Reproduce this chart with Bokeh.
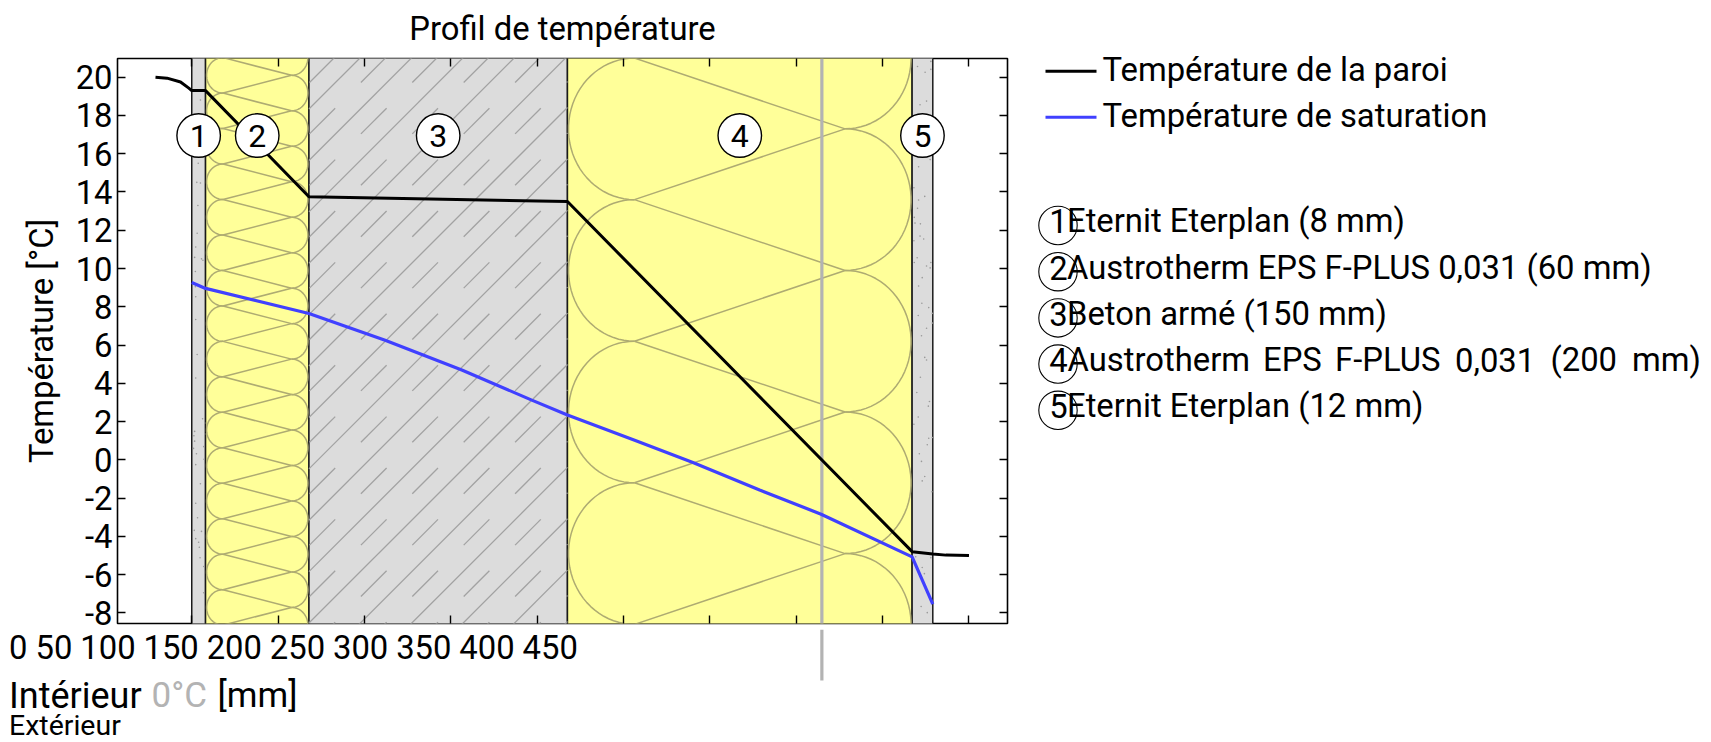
from bokeh.plotting import figure
from bokeh.embed import file_html
from bokeh.resources import INLINE
from bokeh.layouts import column, row
from bokeh.core.properties import value
from bokeh.models import (LinearAxis, FixedTicker, Range1d, Arrow, Title)
import numpy as np

# ---------- data ----------
layer_names = ["Eternit Eterplan (8 mm)", "Austrotherm EPS F-PLUS 0,031 (60 mm)", "Beton armé (150 mm)",
               "Austrotherm EPS F-PLUS 0,031 (200 mm)", "Eternit Eterplan (12 mm)"]
layer_thickness = [8, 60, 150, 200, 12]
layer_numbers = ["1", "2", "3", "4", "5"]
layer_colors = ["#dcdcdc", "#ffff99", "#dcdcdc", "#ffff99", "#dcdcdc"]

wall_x = [-21, -14.3, -6.5, -1.7, 0, 8, 68, 218, 418, 430, 437.6, 451]
wall_t = [20.0, 19.95, 19.75, 19.43, 19.3, 19.3, 13.75, 13.5, -4.8, -4.92, -4.98, -5.0]
sat_x = [0, 8, 68, 112.2, 156.7, 197.3, 218, 257, 290.8, 329.5, 365.2, 418, 430]
sat_t = [9.27, 8.96, 7.65, 6.25, 4.70, 3.12, 2.34, 1.03, -0.14, -1.58, -2.84, -5.07, -7.54]
zero_degree_x = 364.9
legend_labels = ["Température de la paroi", "Température de saturation"]

x_ticks = [0, 50, 100, 150, 200, 250, 300, 350, 400, 450]
x_tick_labels = ["0", "50", "100", "150", "200", "250", "300", "350", "400", "450"]
y_ticks = [20, 18, 16, 14, 12, 10, 8, 6, 4, 2, 0, -2, -4, -6, -8]
y_tick_labels = ["20", "18", "16", "14", "12", "10", "8", "6", "4", "2", "0", "-2", "-4", "-6", "-8"]

# speckles of the fibre-cement layers (offsets in the crop, decorative)
speck5 = [(25,22),(62,8),(46,38),(62,30),(32,128),(50,118),(60,280),(28,300),(15,358),(28,392),(45,382),(25,415),
          (16,440),(18,456),(33,458),(32,492),(42,500),(15,505),(24,552),(16,565),(62,565),(50,575),(60,580),(38,607),
          (28,630),(37,678),(56,690),(66,706),(27,712),(66,733),(50,747),(36,768),(45,828),(50,835),(33,883),(23,925),
          (58,950),(55,963),(27,993),(15,1013),(66,1050),(56,1052),(52,1070),(30,1095),(36,1116),(45,1158),(38,1170),
          (65,1200),(20,1380),(62,1383),(38,1410),(44,1427),(35,1518),(52,1535)]
speck1 = [(33,115),(27,290),(23,343),(33,345),(26,407),(24,484),(20,522),(40,559),(17,551),(36,555),(19,590),(19,632),
          (20,660),(20,723),(24,820),(20,885),(39,998),(17,1033),(45,1010),(15,1045),(45,1040),(17,1060),(42,1075),
          (14,1080),(22,1095),(43,1110),(20,1125),(33,1178),(20,1232),(25,1272),(16,1307),(36,1310),(20,1330),(28,1340),
          (30,1354),(32,1383),(42,1407),(42,1480)]

# ---------- geometry ----------
FONT = "Roboto"
FS = 32.8
F_L, F_T, F_W, F_H = 117, 58, 890, 565
B_H = 6            # below the frame of the main figure
R0 = 1020          # left of the right panel
TOTAL_W = 1705
TOP_H = F_T + F_H + B_H
TOTAL_H = 742
LAYER_K = 0.998    # the layers are drawn very slightly narrower than the tick scale
x_min, x_max = -43.0, 472.4
y_min, y_max = -8.554, 20.977
sx = F_W / (x_max - x_min)
sy = F_H / (y_max - y_min)
def dx(X): return x_min + (np.asarray(X, float) - F_L) / sx
def dy(Y): return y_max - (np.asarray(Y, float) - F_T) / sy
def px(x): return F_L + (np.asarray(x, float) - x_min) * sx

p = figure(frame_width=F_W, frame_height=F_H, min_border_left=F_L, min_border_right=R0 - F_L - F_W,
           min_border_top=F_T, min_border_bottom=B_H,
           x_range=Range1d(x_min, x_max), y_range=Range1d(y_min, y_max),
           output_backend="svg", toolbar_location=None, tools="",
           background_fill_color="white", border_fill_color="white")
p.grid.visible = False
p.outline_line_color = "black"
p.outline_line_width = 1.6

edges = np.concatenate([[0], np.cumsum(layer_thickness)]) * LAYER_K
centers = (edges[:-1] + edges[1:]) / 2

# layers
p.quad(left=edges[:-1], right=edges[1:], bottom=y_min - 1, top=y_max + 1, fill_color=layer_colors,
       line_color="#1a1a1a", line_width=1.5)

# speckles
sp_x = [dx(908 + a / 2.77) for a, b in speck5] + [dx(188 + a / 2.77) for a, b in speck1]
sp_y = [dy(58 + b / 2.77) for a, b in speck5] + [dy(58 + b / 2.77) for a, b in speck1]
p.scatter(sp_x, sp_y, size=1.6, color="#9a9a9a", line_width=0)

# concrete hatching (continuous diagonals, alternated with dashes)
c_l, c_r = px(edges[2]), px(edges[3])
T = 51.4
xs, ys = [], []
for k in range(-8, 13):
    S = 674 + T * k
    xs.append(dx(np.array([c_l, c_r])))
    ys.append(dy(S - np.array([c_l, c_r])))
    S2 = 648 + T * k
    for m in range(0, 6):
        a = 309 + T * m
        b = min(a + 25.7, c_r)
        if a < c_r:
            xs.append(dx(np.array([a, b])))
            ys.append(dy(S2 - np.array([a, b])))
p.multi_line(xs, ys, line_color="#a2a2a2", line_width=1.3)

# insulation pattern
def insulation(x_l, x_r, rx, ry, t0):
    inset = 0.6
    out_x, out_y = [], []
    th = np.linspace(-np.pi / 2, np.pi / 2, 40)
    for k in range(-8, 20):
        tl = t0 - 2 * ry * k              # tangent height on the left
        tr = tl + ry                      # tangent height on the right
        cl, cr = x_l + inset + rx, x_r - inset - rx
        out_x.append(cl - rx * np.cos(th)); out_y.append(tl + ry + ry * np.sin(th))
        out_x.append(cr + rx * np.cos(th)); out_y.append(tr + ry * np.sin(th) - ry)
        out_x.append(np.array([cl, cr])); out_y.append(np.array([tl, tl + ry]))
        out_x.append(np.array([cl, cr])); out_y.append(np.array([tl, tl - ry]))
    return out_x, out_y
for (i, rx, ry, t0) in [(1, 9.5, 0.927, 19.17), (3, 38.2, 3.70, 13.6)]:
    ix, iy = insulation(edges[i], edges[i + 1], rx, ry, t0)
    p.multi_line(ix, iy, line_color="#aeab72", line_width=1.5)

# 0 °C line
GREY_W = 3.2
p.segment(zero_degree_x, y_min, zero_degree_x, y_max, line_color="#b3b3b3", line_width=GREY_W)
p.add_layout(Arrow(end=None, x_start=zero_degree_x, x_end=zero_degree_x, y_start=y_min, y_end=float(dy(TOP_H + 1)),
                   line_color="#b3b3b3", line_width=GREY_W), "below")

p.line(np.array(sat_x) * LAYER_K, sat_t, line_color="#4040ff", line_width=3.2)
p.line([x * LAYER_K if x > 0 else x for x in wall_x], wall_t, line_color="black", line_width=3)

# numbered circles in the plot
num_y = [16.95] * 5
p.scatter(centers, num_y, size=43.5, fill_color="white", line_color="black", line_width=1.4)
p.text(centers, num_y, text=layer_numbers, text_font=value(FONT), text_font_size="32px", text_align="center",
       text_baseline="middle", text_color="black")

# axes
EMPTY_X = {t: "" for t in x_ticks}
EMPTY_Y = {t: "" for t in y_ticks}
bottom = p.xaxis[0]
bottom.ticker = FixedTicker(ticks=x_ticks)
bottom.major_label_overrides = EMPTY_X
bottom.major_label_text_font_size = "1px"
bottom.major_label_standoff = 0
left = p.yaxis[0]
left.ticker = FixedTicker(ticks=y_ticks)
left.major_label_overrides = {t: l for t, l in zip(y_ticks, y_tick_labels)}
left.major_label_text_font = FONT
left.major_label_text_font_size = f"{FS}px"
left.major_label_text_color = "black"
left.major_label_standoff = 5
left.axis_label = "Température [°C]"
left.axis_label_text_font = FONT
left.axis_label_text_font_size = f"{FS}px"
left.axis_label_text_font_style = "normal"
left.axis_label_text_color = "black"
left.axis_label_standoff = 12
top = LinearAxis(ticker=FixedTicker(ticks=x_ticks), major_label_overrides=EMPTY_X,
                 major_label_text_font_size="1px", major_label_standoff=0)
right = LinearAxis(ticker=FixedTicker(ticks=y_ticks), major_label_overrides=EMPTY_Y,
                   major_label_text_font_size="1px", major_label_standoff=0)
p.add_layout(top, "above")
p.add_layout(right, "right")
for ax in [bottom, top, right, left]:
    ax.axis_line_color = None
    ax.major_tick_in = 8
    ax.major_tick_out = 0
    ax.major_tick_line_color = "black"
    ax.major_tick_line_width = 1.4
    ax.minor_tick_line_color = None

p.title = Title(text="Profil de température", align="center", vertical_align="top", text_font=FONT,
                text_font_size=f"{FS}px", text_font_style="normal", text_color="black", standoff=18, offset=-3)

def panel(x0, x1, y0, y1):
    f = figure(title=None, frame_width=x1 - x0, frame_height=y1 - y0, x_range=Range1d(x0, x1), y_range=Range1d(y1, y0),
               x_axis_type=None, y_axis_type=None, min_border=0, output_backend="svg", toolbar_location=None,
               tools="", outline_line_color=None, background_fill_color="white", border_fill_color="white")
    f.grid.visible = False
    return f

def write(f, X, Y, text, size=FS, color="black", align="left"):
    """Y is the baseline wanted on the page."""
    f.text([X], [Y - 0.36 * size], text=[text], text_font=value(FONT), text_font_size=value(f"{size}px"),
           text_color=color, text_align=align, text_baseline="alphabetic")

# ---------- right panel ----------
side = panel(R0, TOTAL_W, 0, TOP_H)
side.segment([1045, 1045], [70.7, 116.7], [1096, 1096], [70.7, 116.7], line_color=["black", "#4040ff"], line_width=3)
write(side, 1102, 81, legend_labels[0])
write(side, 1102, 127, legend_labels[1])

row_y = [232.7 + 46.2 * i for i in range(5)]
side.scatter([1057.5] * 5, [y - 7.7 for y in row_y], size=38.4, fill_alpha=0, line_color="black", line_width=1.1)
for i, (num, name) in enumerate(zip(layer_numbers, layer_names)):
    write(side, 1058, row_y[i], num, align="center")
    if i == 3:
        for word, X in zip(name.split(" "), [1067, 1262.5, 1334.5, 1454.5, 1550, 1631.5]):
            write(side, X, row_y[i], word)
    else:
        write(side, 1066.5, row_y[i], name)

# ---------- bottom panel ----------
under = panel(0, TOTAL_W, TOP_H, TOTAL_H)
under.segment([px(zero_degree_x)], [TOP_H], [px(zero_degree_x)], [680], line_color="#b3b3b3", line_width=GREY_W)
cur = 8.5
for t in x_tick_labels:
    write(under, cur, 658, t)
    cur += len(t) * 18.36 + 8.1
write(under, 8.5, 708, "Intérieur", 36)
write(under, 151, 708, "0°C", 35, "#b3b3b3")
write(under, 217, 708, "[mm]", 35)
write(under, 8.5, 735, "Extérieur", 28.5)

page = column(row(p, column(side)), under)
open("out.html", "w").write(file_html(page, INLINE))
